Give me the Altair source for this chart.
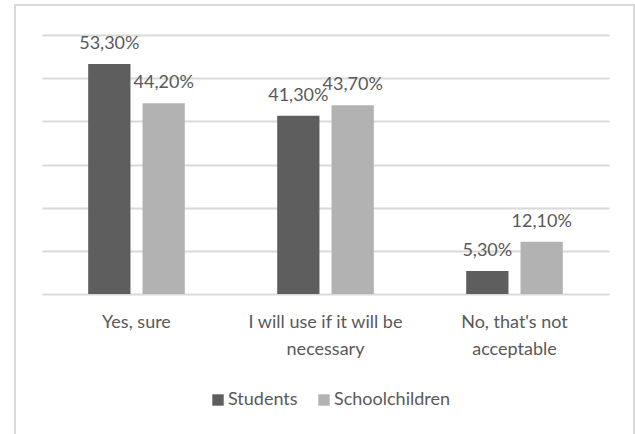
import altair as alt
import pandas as pd

categories = ["Yes, sure", "I will use if it will be|necessary", "No, that's not|acceptable"]
series = ["Students", "Schoolchildren"]
students = [53.3, 41.3, 5.3]
schoolchildren = [44.2, 43.7, 12.1]
colors = ["#5e5e5e", "#b2b2b2"]

rows = []
for c, s1, s2 in zip(categories, students, schoolchildren):
    rows.append({"cat": c, "series": series[0], "value": s1})
    rows.append({"cat": c, "series": series[1], "value": s2})
df = pd.DataFrame(rows)
df["label"] = df["value"].map(lambda v: f"{v:.2f}".replace(".", ",") + "%")

FONT = "Lato"
TXT = "#595959"

x_enc = alt.X("cat:N", sort=categories, title=None,
              scale=alt.Scale(paddingInner=0, paddingOuter=0),
              axis=alt.Axis(labelAngle=0, ticks=False, domain=False, grid=False, labelPadding=19,
                            labelExpr="split(datum.label, '|')", labelLineHeight=27,
                            labelFont=FONT, labelFontSize=18, labelColor=TXT))
xoff = alt.XOffset("series:N", sort=series,
                   scale=alt.Scale(paddingInner=0.222, paddingOuter=0.85))
y_enc = alt.Y("value:Q", title=None,
              scale=alt.Scale(domain=[0, 60], nice=False),
              axis=alt.Axis(values=[0, 10, 20, 30, 40, 50, 60], labels=False, ticks=False,
                            domain=False, grid=True, gridColor="#d9d9d9", gridWidth=2))

bars = alt.Chart(df).mark_bar().encode(
    x=x_enc, xOffset=xoff, y=y_enc,
    color=alt.Color("series:N", sort=series,
                    scale=alt.Scale(domain=series, range=colors),
                    legend=alt.Legend(title=None, orient="none", direction="horizontal",
                                      legendX=167, legendY=356,
                                      symbolType="square", symbolSize=130,
                                      symbolStrokeWidth=0,
                                      labelFont=FONT, labelFontSize=18, labelColor=TXT,
                                      columnPadding=17, labelOffset=1)),
)

labels = alt.Chart(df).mark_text(font=FONT, fontSize=18, color=TXT, baseline="alphabetic", dy=-15).encode(
    x=alt.X("cat:N", sort=categories),
    xOffset=alt.XOffset("series:N", sort=series), y=alt.Y("value:Q"),
    text="label:N",
)

border = alt.Chart(pd.DataFrame({"a": [0]})).mark_rect(
    fill="transparent", stroke="#d9d9d9", strokeWidth=2, clip=False
).encode(x=alt.value(-27), x2=alt.value(592), y=alt.value(-30), y2=alt.value(440))

chart = (
    alt.layer(border, bars, labels)
    .properties(
        width=567, height=259,
        padding={"left": 42, "top": 35, "right": 26, "bottom": 140},
        autosize=alt.AutoSizeParams(type="none"),
        background="white",
    )
    .configure_view(strokeWidth=0)
    .configure_axisX(grid=False)
)

chart.save("out.html", embed_options={"renderer": "svg", "actions": False})
